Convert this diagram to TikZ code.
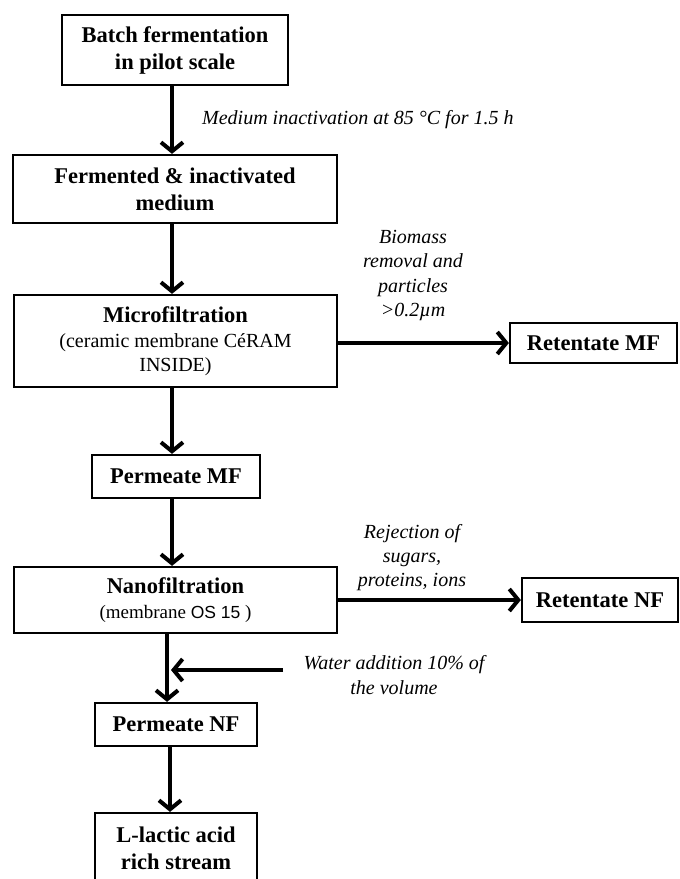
\documentclass[tikz,border=0pt]{standalone}
\usepackage{fontspec}
\setmainfont{Liberation Serif}
\newfontfamily\sansf{Liberation Sans}
\usetikzlibrary{arrows.meta}
\tikzset{
  procbox/.style={draw, line width=2.2pt, inner sep=0pt, align=center,
    font=\fontsize{22.5}{27}\selectfont\bfseries},
  lab/.style={align=center, inner sep=0pt, font=\fontsize{20}{24.3}\selectfont\itshape},
  arr/.style={line width=4pt, -{Straight Barb[length=9pt,width=22pt]}}
}
\begin{document}
\begin{tikzpicture}[x=1pt,y=-1pt]
\useasboundingbox (0,0) rectangle (680,879);
% boxes
\node[procbox, minimum width=226pt, minimum height=70pt] (batch) at (175,50)
  {Batch fermentation\\in pilot scale};
\node[procbox, minimum width=324pt, minimum height=68pt] (ferm) at (175,189)
  {Fermented \& inactivated\\medium};
\node[procbox, minimum width=323pt, minimum height=92pt] (micro) at (175.5,341)
  {Microfiltration\\[-2pt]
   {\mdseries\fontsize{20}{24}\selectfont (ceramic membrane CéRAM}\\[-3pt]
   {\mdseries\fontsize{20}{24}\selectfont INSIDE)}};
\node[procbox, minimum width=167pt, minimum height=40pt] (retMF) at (593.5,343)
  {Retentate MF};
\node[procbox, minimum width=168pt, minimum height=43pt] (permMF) at (176,476.5)
  {Permeate MF};
\node[procbox, minimum width=323pt, minimum height=66pt] (nano) at (175.5,600)
  {Nanofiltration\\[-2pt]
   {\mdseries\fontsize{19}{23}\selectfont (membrane {\sansf\fontsize{17.5}{22}\selectfont OS 15} )}};
\node[procbox, minimum width=156pt, minimum height=44pt] (retNF) at (600,600)
  {Retentate NF};
\node[procbox, minimum width=162pt, minimum height=43pt] (permNF) at (176,724.5)
  {Permeate NF};
\node[procbox, minimum width=162pt, minimum height=71pt] (lactic) at (176,848.5)
  {L-lactic acid\\rich stream};
% labels
\node[lab, anchor=west] (l1) at (202,120) {Medium inactivation at 85 °C for 1.5 h};
\node[lab] (l2) at (413,275.5) {Biomass\\removal and\\particles\\>0.2µm};
\node[lab] (l3) at (412,557.5) {Rejection of\\sugars,\\proteins, ions};
\node[lab] (l4) at (394,675) {Water addition 10\% of\\the volume};
% connectors
\draw[arr] ([xshift=-3pt]batch.south) -- ([xshift=-3pt]ferm.north);
\draw[arr] ([xshift=-3pt]ferm.south) -- ([xshift=-3pt]ferm.south |- micro.north);
\draw[arr] ([xshift=-3.5pt]micro.south) -- ([xshift=-3.5pt]micro.south |- permMF.north);
\draw[arr] (micro.east |- retMF.west) -- (retMF.west);
\draw[arr] ([xshift=-4pt]permMF.south) -- ([xshift=-4pt]permMF.south |- nano.north);
\draw[arr] (nano.east) -- (retNF.west);
\draw[arr] ([xshift=-8.5pt]nano.south) -- ([xshift=-8.5pt]nano.south |- permNF.north);
\coordinate (wstart) at (283,670);
\coordinate (wend) at (171,670);
\draw[arr] (wstart) -- (wend);
\draw[arr] ([xshift=-6pt]permNF.south) -- ([xshift=-6pt]lactic.north);
\end{tikzpicture}
\end{document}
